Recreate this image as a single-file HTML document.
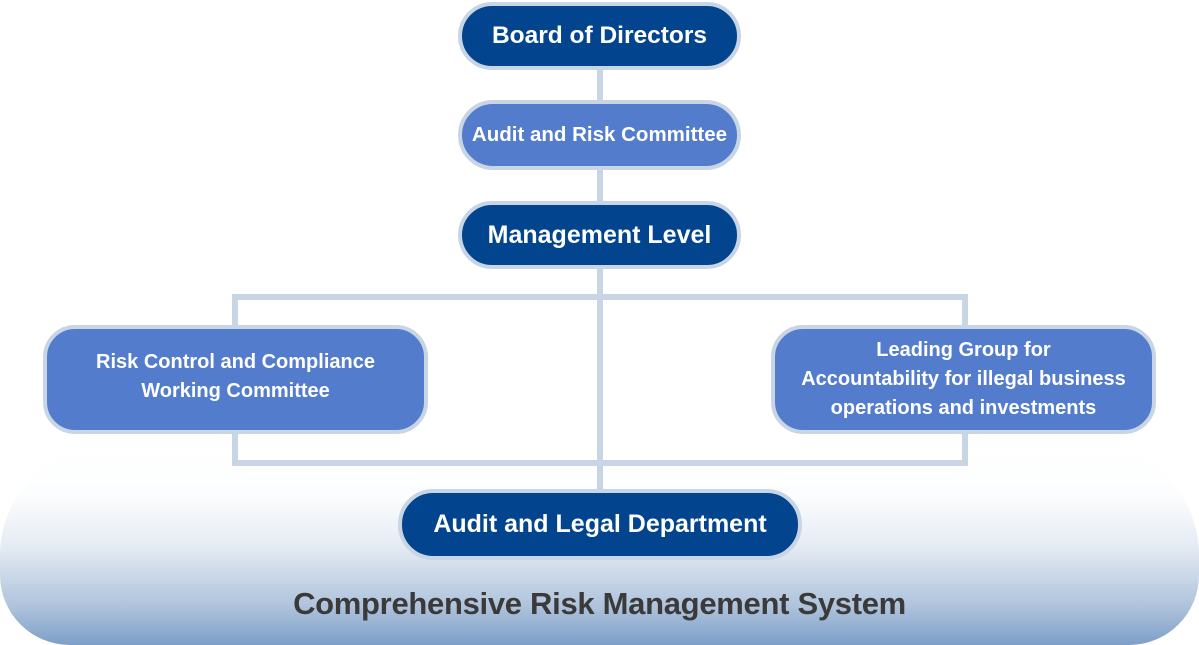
<!DOCTYPE html>
<html><head><meta charset="utf-8"><style>
body{margin:0;width:1199px;height:645px;position:relative;overflow:hidden;background:#fff;font-family:"Liberation Sans",sans-serif;font-weight:bold}
.bg{position:absolute;left:0;top:445px;width:1199px;height:200px;border-radius:110px 110px 70px 70px;background:linear-gradient(#ffffff 0%,#fcfdfe 25%,#e6ecf4 50%,#b0c4dc 80%,#7d9fc8 100%)}
.l{position:absolute;background:#c8d5e5}
.n{position:absolute;box-sizing:border-box;border:4px solid #c8d5e5;display:flex;align-items:center;justify-content:center;text-align:center;color:#fff;white-space:nowrap}
.d{background:#02458e}.m{background:#537ccd}
.t{position:absolute;left:0;width:1199px;top:586px;text-align:center;font-size:31px;color:#3a3a3a;letter-spacing:-0.3px}
</style></head><body>
<div class="bg"></div>
<div class="l" style="left:597px;top:66px;width:6px;height:428px"></div>
<div class="l" style="left:232px;top:294px;width:736px;height:6px"></div>
<div class="l" style="left:232px;top:460px;width:736px;height:6px"></div>
<div class="l" style="left:232px;top:294px;width:6px;height:172px"></div>
<div class="l" style="left:962px;top:294px;width:6px;height:172px"></div>
<div class="n d" style="left:458px;top:2px;width:283px;height:68px;border-radius:34px;font-size:24.5px">Board of Directors</div>
<div class="n m" style="left:458px;top:100px;width:283px;height:70px;border-radius:35px;font-size:20.5px">Audit and Risk Committee</div>
<div class="n d" style="left:458px;top:201px;width:283px;height:68px;border-radius:34px;font-size:25px">Management Level</div>
<div class="n m" style="left:43px;top:325px;width:385px;height:109px;border-radius:32px;font-size:20px;line-height:29px;padding-bottom:6px">Risk Control and Compliance<br>Working Committee</div>
<div class="n m" style="left:771px;top:325px;width:385px;height:109px;border-radius:32px;font-size:20px;line-height:29px">Leading Group for<br>Accountability for illegal business<br>operations and investments</div>
<div class="n d" style="left:398px;top:489px;width:404px;height:71px;border-radius:35px;font-size:25px">Audit and Legal Department</div>
<div class="t">Comprehensive Risk Management System</div>
</body></html>
